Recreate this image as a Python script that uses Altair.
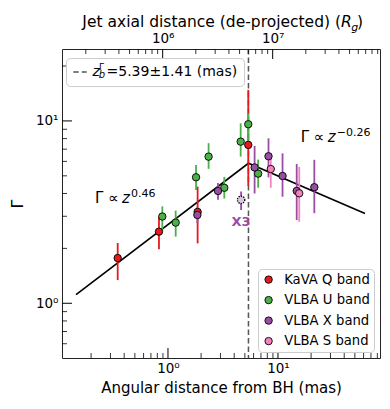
import altair as alt
import pandas as pd

# ---------------- data ----------------
bands = ["KaVA Q band", "VLBA U band", "VLBA X band", "VLBA S band"]
band_colors = ["#e41a1c", "#4daf4a", "#984ea3", "#f781bf"]

q_x = [0.349, 0.828, 1.86, 5.37]
q_y = [1.77, 2.47, 3.17, 7.39]
q_lo = [1.34, 1.98, 2.13, 4.4]
q_hi = [2.14, 2.99, 4.36, 14.8]

u_x = [0.888, 1.175, 1.80, 2.34, 3.25, 4.58, 5.37, 6.6]
u_y = [2.99, 2.77, 4.91, 6.37, 4.30, 7.70, 9.59, 5.14]
u_lo = [2.5, 2.32, 4.18, 5.46, 3.75, 6.37, 7.3, 4.3]
u_hi = [3.4, 3.22, 5.74, 7.55, 4.93, 9.70, 11.0, 6.14]

x_x = [1.85, 2.85, 6.13, 8.2, 11.0, 14.8, 21.4]
x_y = [3.05, 4.13, 5.56, 6.4, 4.99, 4.13, 4.33]
x_lo = [2.75, 3.69, 4.0, 4.9, 3.84, 2.86, 3.12]
x_hi = [3.4, 4.57, 7.3, 8.03, 6.64, 5.81, 6.12]

s_x = [8.6, 15.6]
s_y = [5.45, 4.01]
s_lo = [4.3, 2.8]
s_hi = [6.6, 5.6]

x3_x = [4.62]
x3_y = [3.69]
x3_lo = [3.25]
x3_hi = [4.1]
x3_label = ["X3"]

fit_x = [0.146, 5.39, 61.8]
fit_y = [1.114, 5.86, 3.11]

zb = [5.39]
zb_label = "=5.39±1.41 (mas)"

ann_x = [0.2173, 16.08]
ann_y = [3.54, 7.70]
ann_base = ["Γ ∝", "Γ ∝"]
ann_z = ["z", "z"]
ann_exp = ["0.46", "\u22120.26"]

x_major = [1, 10]
x_minor = [0.2, 0.3, 0.4, 0.5, 0.6, 0.7, 0.8, 0.9, 2, 3, 4, 5, 6, 7, 8, 9,
           20, 30, 40, 50, 60, 70, 80]
y_major = [1, 10]
y_minor = [0.6, 0.7, 0.8, 0.9, 2, 3, 4, 5, 6, 7, 8, 9, 20]
rg_major = [1e6, 1e7]
rg_minor = [2e5, 3e5, 4e5, 5e5, 6e5, 7e5, 8e5, 9e5, 2e6, 3e6, 4e6, 5e6, 6e6,
            7e6, 8e6, 9e6, 2e7, 3e7, 4e7, 5e7, 6e7, 7e7, 8e7, 9e7]

x_domain = [0.1088, 84.6]
y_domain = [0.501, 24.8]
mas_to_rg = 1.1173e6
rg_domain = [x_domain[0] * mas_to_rg, x_domain[1] * mas_to_rg]

W, H = 318, 309
MAJ_LEN, MIN_LEN = 10, 5

# ---------------- tables ----------------
rows = []
for b, xs, ys, los, his in [
    (bands[0], q_x, q_y, q_lo, q_hi),
    (bands[1], u_x, u_y, u_lo, u_hi),
    (bands[2], x_x, x_y, x_lo, x_hi),
    (bands[3], s_x, s_y, s_lo, s_hi),
]:
    for a, c, l, h in zip(xs, ys, los, his):
        rows.append({"band": b, "x": a, "y": c, "lo": l, "hi": h})
df = pd.DataFrame(rows)
x3_df = pd.DataFrame({"x": x3_x, "y": x3_y, "lo": x3_lo, "hi": x3_hi, "t": x3_label})
fit_df = pd.DataFrame({"x": fit_x, "y": fit_y})
zb_df = pd.DataFrame({"x": zb, "lbl": [zb_label]})
ann_df = pd.DataFrame({"x": ann_x, "y": ann_y, "base": ann_base, "z": ann_z, "e": ann_exp})

# ---------------- scales / axes ----------------
XS = alt.Scale(type="log", domain=x_domain, nice=False)
YS = alt.Scale(type="log", domain=y_domain, nice=False)
RS = alt.Scale(type="log", domain=rg_domain, nice=False)

common = dict(
    grid=False, ticks=False, tickSize=0, domain=False,
    labelOverlap=False, labelFlush=False, labelColor="black",
    titleColor="black", titleFontWeight="normal",
)
XAX = alt.Axis(
    orient="bottom", values=x_major,
    labelExpr="datum.value == 1 ? '10⁰' : '10¹'",
    labelFontSize=13.5, labelPadding=3,
    title="Angular distance from BH (mas)", titleFontSize=15, titlePadding=6,
    **common,
)
YAX = alt.Axis(
    orient="left", values=y_major,
    labelExpr="datum.value == 1 ? '10⁰' : '10¹'",
    labelFontSize=13.5, labelPadding=4,
    title="Γ", titleFontSize=16, titlePadding=10,
    **common,
)
RAX = alt.Axis(
    orient="top", values=rg_major,
    labelExpr="datum.value == 1000000 ? '10⁶' : '10⁷'",
    labelFontSize=13.5, labelPadding=4, title=None,
    **common,
)


def X(f="x"):
    return alt.X(f"{f}:Q", scale=XS, axis=XAX)


def Y(f="y"):
    return alt.Y(f"{f}:Q", scale=YS, axis=YAX)


# ---------------- inward ticks ----------------
def xticks(vals, length, width):
    return alt.Chart(pd.DataFrame({"x": vals})).mark_rule(color="black", strokeWidth=width).encode(
        x=X(), y=alt.value(H), y2=alt.value(H - length)
    )


def yticks(vals, length, width):
    return alt.Chart(pd.DataFrame({"y": vals})).mark_rule(color="black", strokeWidth=width).encode(
        y=Y(), x=alt.value(0), x2=alt.value(length)
    )


def rticks(vals, length, width):
    return alt.Chart(pd.DataFrame({"rg": vals})).mark_rule(color="black", strokeWidth=width).encode(
        x=alt.X("rg:Q", scale=RS, axis=RAX), y=alt.value(0), y2=alt.value(length)
    )


# ---------------- layers ----------------
bar_layers = [
    alt.Chart(df).transform_filter(alt.datum.band == b).mark_rule(strokeWidth=1.8, color=c).encode(
        x=X(), y=Y("lo"), y2="hi:Q"
    )
    for b, c in zip(bands, band_colors)
]
points = alt.Chart(df).mark_point(
    shape="circle", filled=True, size=55, stroke="black", strokeWidth=0.9, opacity=1
).encode(
    x=X(), y=Y(),
    color=alt.Color(
        "band:N", scale=alt.Scale(domain=bands, range=band_colors),
        legend=alt.Legend(
            title=None, orient="none", legendX=196, legendY=220,
            fillColor="white", strokeColor="#cccccc", cornerRadius=4, padding=4,
            labelFontSize=13.2, labelColor="black", labelOffset=9, rowPadding=6.5,
            symbolType="circle", symbolSize=55, symbolStrokeColor="black",
            symbolStrokeWidth=0.9, symbolOpacity=1,
        ),
    ),
)
x3_bar = alt.Chart(x3_df).mark_rule(strokeWidth=1.8, color=band_colors[2]).encode(
    x=X(), y=Y("lo"), y2="hi:Q"
)
x3_pt = alt.Chart(x3_df).mark_point(
    shape="circle", filled=True, size=55, fill="#d9c7e2", stroke="black",
    strokeWidth=1.3, strokeDash=[1.3, 1.1], opacity=1,
).encode(x=X(), y=Y())
x3_txt = alt.Chart(x3_df).mark_text(
    fontSize=13, fontWeight="bold", color=band_colors[2], dy=22, align="center", baseline="middle"
).encode(x=X(), y=Y(), text="t:N")

fit = alt.Chart(fit_df).mark_line(color="black", strokeWidth=1.6).encode(x=X(), y=Y())

vline = alt.Chart(zb_df).mark_rule(color="#555555", strokeWidth=1.5).encode(
    x=X(),
    strokeDash=alt.StrokeDash(
        "lbl:N", scale=alt.Scale(domain=[zb_label], range=[[5.5, 3]]),
        legend=alt.Legend(
            title=None, orient="none", legendX=4, legendY=9,
            fillColor="rgba(255,255,255,0)", strokeColor="#cccccc", cornerRadius=4,
            padding=6.5, labelFontSize=14, labelColor="black", labelOffset=19,
            labelLimit=300, symbolType="stroke", symbolSize=180,
            symbolStrokeColor="#555555", symbolStrokeWidth=1.5,
        ),
    ),
)

ann_base_l = alt.Chart(ann_df).mark_text(
    fontSize=15, align="left", baseline="alphabetic", color="black"
).encode(x=X(), y=Y(), text="base:N")
ann_z_l = alt.Chart(ann_df).mark_text(
    fontSize=15, fontStyle="italic", align="left", baseline="alphabetic", color="black", dx=27
).encode(x=X(), y=Y(), text="z:N")
ann_e_l = alt.Chart(ann_df).mark_text(
    fontSize=11, align="left", baseline="alphabetic", color="black", dx=36, dy=-6
).encode(x=X(), y=Y(), text="e:N")

# pieces of math text in the dashed-line legend label and the top axis title
leg_z = alt.Chart(pd.DataFrame({"t": ["z"]})).mark_text(
    fontSize=14, fontStyle="italic", align="left", baseline="alphabetic", color="black"
).encode(x=alt.value(30.5), y=alt.value(27), text="t:N")
leg_sup = alt.Chart(pd.DataFrame({"t": ["Γ"]})).mark_text(
    fontSize=9, align="left", baseline="alphabetic", color="black"
).encode(x=alt.value(37), y=alt.value(20.5), text="t:N")
leg_sub = alt.Chart(pd.DataFrame({"t": ["b"]})).mark_text(
    fontSize=10, fontStyle="italic", align="left", baseline="alphabetic", color="black"
).encode(x=alt.value(36.8), y=alt.value(29), text="t:N")

top_title = alt.Chart(pd.DataFrame({"t": ["Jet axial distance (de-projected) ("]})).mark_text(
    fontSize=15.5, align="right", baseline="alphabetic", color="black"
).encode(x=alt.value(279), y=alt.value(-21.7), text="t:N")
top_R = alt.Chart(pd.DataFrame({"t": ["R"]})).mark_text(
    fontSize=15.5, fontStyle="italic", align="left", baseline="alphabetic", color="black"
).encode(x=alt.value(279), y=alt.value(-21.7), text="t:N")
top_g = alt.Chart(pd.DataFrame({"t": ["g"]})).mark_text(
    fontSize=11, fontStyle="italic", align="left", baseline="alphabetic", color="black"
).encode(x=alt.value(289.3), y=alt.value(-18.5), text="t:N")
top_close = alt.Chart(pd.DataFrame({"t": [")"]})).mark_text(
    fontSize=15.5, align="left", baseline="alphabetic", color="black"
).encode(x=alt.value(295), y=alt.value(-21.7), text="t:N")

main = alt.layer(
    xticks(x_major, MAJ_LEN, 1.0), xticks(x_minor, MIN_LEN, 0.8),
    yticks(y_major, MAJ_LEN, 1.0), yticks(y_minor, MIN_LEN, 0.8),
    vline, fit, *bar_layers, points, x3_bar, x3_pt, x3_txt,
    ann_base_l, ann_z_l, ann_e_l,
    leg_z, leg_sup, leg_sub, top_title, top_R, top_g, top_close,
)

top = alt.layer(rticks(rg_major, MAJ_LEN, 1.0), rticks(rg_minor, MIN_LEN, 0.8))

chart = alt.layer(main, top).resolve_scale(x="independent").properties(
    width=W, height=H,
    padding={"left": 54, "top": 41, "right": 2, "bottom": 40},
    autosize=alt.AutoSizeParams(type="none"),
).configure(font="DejaVu Sans").configure_view(stroke="#222222", strokeWidth=1)

chart.save("out.html", embed_options={"renderer": "svg", "actions": False})
